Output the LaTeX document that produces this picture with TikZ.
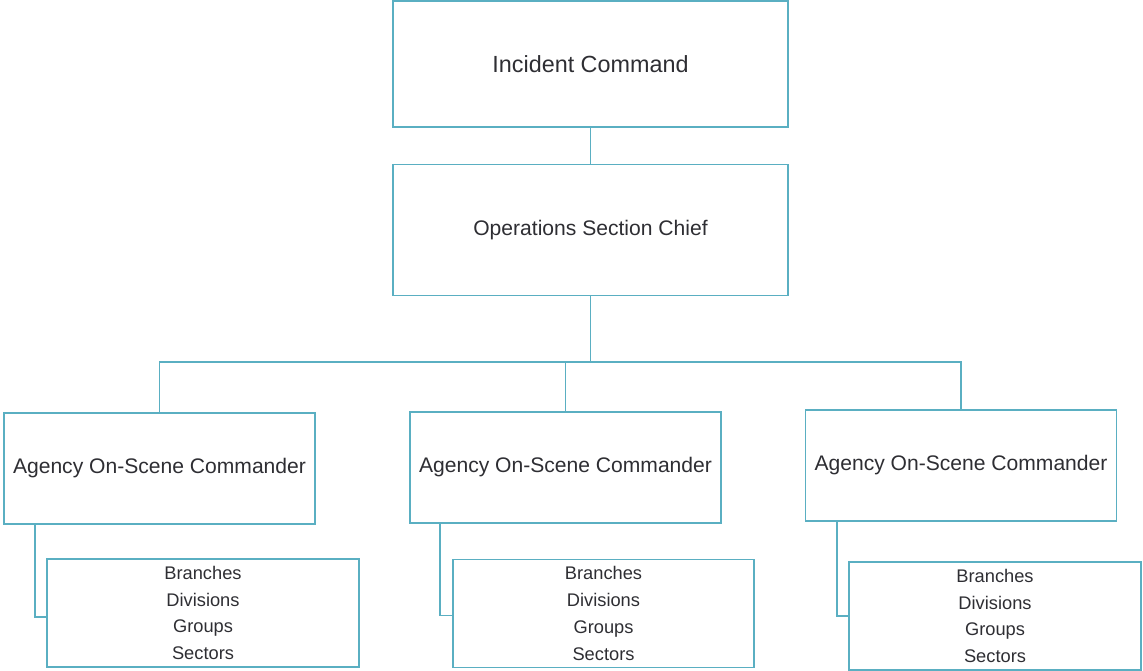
\documentclass[tikz,border=0pt]{standalone}
\usepackage{fontspec}
\setmainfont{Liberation Sans}
\usepackage{tikz}
\usetikzlibrary{positioning,calc}

\definecolor{boxline}{HTML}{5AAFC2}
\definecolor{boxtext}{HTML}{2E2E33}

\begin{document}
\begin{tikzpicture}[x=0.02cm,y=-0.02cm,
    every node/.style={text=boxtext},
    chiefbox/.style={draw=boxline,line width=0.9pt,rectangle,minimum width=7.9cm,font=\fontsize{12}{14}\selectfont},
    agencybox/.style={draw=boxline,line width=0.9pt,rectangle,minimum width=6.22cm,minimum height=2.22cm,font=\fontsize{12}{14}\selectfont},
    unitbox/.style={draw=boxline,line width=0.9pt,rectangle,minimum height=2.16cm,align=center,font=\fontsize{10.4}{15.2}\selectfont},
    link/.style={draw=boxline,line width=0.9pt}]
    \useasboundingbox (0,0) rectangle (1143,670);

    \node[chiefbox,minimum height=2.52cm,font=\fontsize{13.3}{15}\selectfont] (incident) at (590.5,64) {Incident Command};
    \node[chiefbox,minimum height=2.62cm] (operations) at (590.5,230) {Operations Section Chief};

    \node[agencybox] (agencyA) at (159.5,468.5) {Agency On-Scene Commander};
    \node[agencybox] (agencyB) at (565.5,467.5) {Agency On-Scene Commander};
    \node[agencybox] (agencyC) at (961,465.5) {Agency On-Scene Commander};

    \node[unitbox,minimum width=6.24cm] (unitsA) at (203,613) {Branches\\Divisions\\Groups\\Sectors};
    \node[unitbox,minimum width=6.02cm] (unitsB) at (603.5,613.5) {Branches\\Divisions\\Groups\\Sectors};
    \node[unitbox,minimum width=5.84cm] (unitsC) at (995,616) {Branches\\Divisions\\Groups\\Sectors};

    \coordinate (split) at (590.5,362);

\draw[link] (incident) -- (operations);
\draw[link] (operations) -- (split);
\draw[link] (agencyA.north) |- (split) -| (agencyC.north);
\draw[link] (split -| agencyB.north) -- (agencyB.north);
\draw[link] ([xshift=0.64cm]agencyA.south west) |- ([yshift=-0.08cm]unitsA.west);
\draw[link] ([xshift=0.62cm]agencyB.south west) |- ([yshift=-0.04cm]unitsB.west);
\draw[link] ([xshift=0.64cm]agencyC.south west) |- (unitsC.west);

\end{tikzpicture}
\end{document}
